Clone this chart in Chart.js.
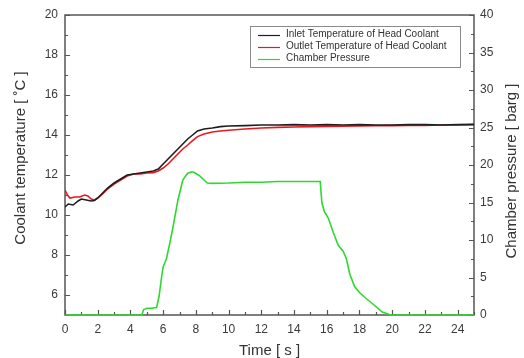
<!DOCTYPE html>
<html>
<head>
<meta charset="utf-8">
<script src="https://cdn.jsdelivr.net/npm/chart.js@4.4.1/dist/chart.umd.min.js"></script>
<style>
  html, body { margin: 0; padding: 0; background: #fff; }
  #wrap { width: 524px; height: 358px; }
</style>
</head>
<body>
<div id="wrap"><canvas id="chart" width="524" height="358"></canvas></div>
<script>
// values
const inletTime = [0, 0.2, 0.5, 0.8, 1.0, 1.3, 1.6, 1.8, 2.0, 2.3, 2.6, 3.0, 3.4, 3.8, 4.2, 4.6, 5.0, 5.4, 5.7, 6.0, 6.3, 6.6, 6.9, 7.2, 7.5, 7.8, 8.1, 8.5, 9.0, 9.5, 10, 11, 12, 13, 14, 15, 16, 17, 18, 19, 20, 21, 22, 23, 24, 25];
const inletTemp = [10.4, 10.55, 10.5, 10.7, 10.8, 10.75, 10.7, 10.72, 10.85, 11.1, 11.35, 11.6, 11.8, 12.0, 12.05, 12.1, 12.15, 12.2, 12.3, 12.55, 12.8, 13.05, 13.3, 13.55, 13.8, 14.0, 14.2, 14.3, 14.35, 14.42, 14.45, 14.47, 14.5, 14.5, 14.52, 14.5, 14.52, 14.5, 14.52, 14.5, 14.5, 14.52, 14.52, 14.5, 14.52, 14.53];

const outletTime = [0, 0.15, 0.3, 0.6, 0.9, 1.2, 1.4, 1.6, 1.8, 2.0, 2.3, 2.6, 3.0, 3.4, 3.8, 4.2, 4.6, 5.0, 5.4, 5.7, 6.0, 6.3, 6.6, 6.9, 7.2, 7.5, 7.8, 8.1, 8.5, 9.0, 9.5, 10, 11, 12, 13, 14, 15, 16, 17, 18, 19, 20, 21, 22, 23, 24, 25];
const outletTemp = [11.25, 11.0, 10.85, 10.9, 10.9, 11.0, 10.95, 10.8, 10.75, 10.85, 11.05, 11.3, 11.55, 11.75, 11.95, 12.05, 12.05, 12.1, 12.12, 12.2, 12.35, 12.55, 12.8, 13.05, 13.3, 13.5, 13.72, 13.92, 14.05, 14.15, 14.2, 14.24, 14.3, 14.35, 14.38, 14.4, 14.42, 14.43, 14.44, 14.45, 14.46, 14.47, 14.48, 14.48, 14.5, 14.5, 14.52];

const pressureTime = [0, 4.7, 4.8, 5.0, 5.3, 5.6, 5.75, 5.9, 6.0, 6.2, 6.4, 6.6, 6.9, 7.2, 7.5, 7.75, 7.9, 8.2, 8.5, 8.7, 9, 10, 11, 12, 13, 14, 15, 15.6, 15.7, 15.85, 16.1, 16.4, 16.7, 17.0, 17.2, 17.4, 17.7, 18.0, 18.3, 18.8, 19.4, 19.9, 21, 22, 23, 24, 25];
const pressureBarg = [0, 0, 0.7, 0.9, 0.9, 1.0, 2.5, 5.0, 6.4, 7.5, 9.5, 11.7, 15.3, 18.0, 18.9, 19.1, 19.0, 18.6, 18.0, 17.6, 17.55, 17.6, 17.7, 17.7, 17.8, 17.8, 17.8, 17.8, 15.0, 13.8, 12.9, 11.0, 9.3, 8.5, 7.5, 5.5, 3.8, 3.0, 2.4, 1.5, 0.4, 0, 0, 0, 0, 0, 0];

const seriesLabels = ["Inlet Temperature of Head Coolant", "Outlet Temperature of Head Coolant", "Chamber Pressure"];
const seriesColors = ["#1e1e1e", "#e8191e", "#2fd82f"];

const timeTicks = [0, 2, 4, 6, 8, 10, 12, 14, 16, 18, 20, 22, 24];
const tempTicks = [6, 8, 10, 12, 14, 16, 18, 20];
const pressureTicks = [0, 5, 10, 15, 20, 25, 30, 35, 40];

const xTitle = "Time [ s ]";
const yTitle = "Coolant temperature [ \u02DAC ]";
const y2Title = "Chamber pressure [ barg ]";

function points(xs, ys) {
  return xs.map((x, i) => ({ x, y: ys[i] }));
}

function fixedTicks(values) {
  return (scale) => {
    scale.ticks = values.map((value) => ({ value }));
  };
}

const axisColor = "#555";
const labelColor = "#3a3a3a";
const fontFamily = "'Liberation Sans', Arial, sans-serif";

// inward ticks + frame, drawn from the chart scales
const frameAndTicks = {
  id: "frameAndTicks",
  beforeDatasetsDraw(chart) {
    const { ctx, chartArea: a, scales } = chart;
    ctx.save();
    ctx.strokeStyle = axisColor;
    ctx.lineWidth = 1.5;
    ctx.strokeRect(a.left, a.top, a.right - a.left, a.bottom - a.top);

    ctx.lineWidth = 1.2;
    ctx.beginPath();
    const major = 5;
    const minor = 3;
    timeTicks.forEach((v) => {
      const px = Math.round(scales.x.getPixelForValue(v)) + 0.5;
      ctx.moveTo(px, a.bottom); ctx.lineTo(px, a.bottom - major);
      const pm = Math.round(scales.x.getPixelForValue(v + 1)) + 0.5;
      ctx.moveTo(pm, a.bottom); ctx.lineTo(pm, a.bottom - minor);
    });
    tempTicks.forEach((v) => {
      const py = Math.round(scales.y.getPixelForValue(v)) + 0.5;
      ctx.moveTo(a.left, py); ctx.lineTo(a.left + major, py);
      const pm = Math.round(scales.y.getPixelForValue(v - 1)) + 0.5;
      ctx.moveTo(a.left, pm); ctx.lineTo(a.left + minor, pm);
    });
    pressureTicks.forEach((v) => {
      const py = Math.round(scales.y2.getPixelForValue(v)) + 0.5;
      ctx.moveTo(a.right, py); ctx.lineTo(a.right - major, py);
      if (v > 0) {
        const pm = Math.round(scales.y2.getPixelForValue(v - 2.5)) + 0.5;
        ctx.moveTo(a.right, pm); ctx.lineTo(a.right - minor, pm);
      }
    });
    ctx.stroke();
    ctx.restore();
  },
  afterDraw(chart) {
    const { ctx, chartArea: a } = chart;
    ctx.save();
    // vertical axis titles (both read bottom to top)
    ctx.fillStyle = "#333";
    ctx.font = "15px " + fontFamily;
    ctx.textAlign = "center";
    ctx.textBaseline = "middle";
    ctx.save();
    ctx.translate(21, 158);
    ctx.rotate(-Math.PI / 2);
    ctx.fillText(yTitle, 0, 0);
    ctx.restore();
    ctx.save();
    ctx.translate(512, 171);
    ctx.rotate(-Math.PI / 2);
    ctx.fillText(y2Title, 0, 0);
    ctx.restore();

    // legend box
    const bx = a.left + 185, by = a.top + 11, bw = 210, bh = 41;
    ctx.fillStyle = "#fff";
    ctx.fillRect(bx, by, bw, bh);
    ctx.strokeStyle = "#8a8a8a";
    ctx.lineWidth = 1;
    ctx.strokeRect(bx + 0.5, by + 0.5, bw, bh);
    ctx.font = "10px " + fontFamily;
    ctx.textAlign = "left";
    seriesLabels.forEach((label, i) => {
      const y = by + 8.5 + i * 12;
      ctx.strokeStyle = seriesColors[i];
      ctx.lineWidth = 1.2;
      ctx.beginPath();
      ctx.moveTo(bx + 8, Math.round(y) + 0.5);
      ctx.lineTo(bx + 30, Math.round(y) + 0.5);
      ctx.stroke();
      ctx.fillStyle = "#333";
      ctx.fillText(label, bx + 36, y);
    });
    ctx.restore();
  },
};

new Chart(document.getElementById("chart"), {
  type: "line",
  data: {
    datasets: [
      {
        label: seriesLabels[0],
        data: points(inletTime, inletTemp),
        borderColor: seriesColors[0],
        borderWidth: 1.6,
        yAxisID: "y",
      },
      {
        label: seriesLabels[1],
        data: points(outletTime, outletTemp),
        borderColor: seriesColors[1],
        borderWidth: 1.6,
        yAxisID: "y",
      },
      {
        label: seriesLabels[2],
        data: points(pressureTime, pressureBarg),
        borderColor: seriesColors[2],
        borderWidth: 1.6,
        yAxisID: "y2",
        clip: false,
      },
    ],
  },
  options: {
    responsive: false,
    animation: false,
    devicePixelRatio: 1,
    layout: { padding: { top: 15, left: 0, right: 0, bottom: 0 } },
    elements: { point: { radius: 0 }, line: { tension: 0 } },
    plugins: { legend: { display: false }, tooltip: { enabled: false } },
    scales: {
      x: {
        type: "linear",
        position: "bottom",
        min: 0,
        max: 25,
        afterBuildTicks: fixedTicks(timeTicks),
        afterFit: (scale) => { scale.height = 43; },
        grid: { display: false, drawTicks: false },
        border: { display: false },
        ticks: { color: labelColor, font: { family: fontFamily, size: 12 }, padding: 7, maxRotation: 0 },
        title: {
          display: true,
          text: xTitle,
          color: "#333",
          font: { family: fontFamily, size: 15, lineHeight: 1 },
          padding: { top: 0, bottom: 0 },
        },
      },
      y: {
        type: "linear",
        position: "left",
        min: 5,
        max: 20,
        afterBuildTicks: fixedTicks(tempTicks),
        afterFit: (scale) => { scale.width = 65; },
        grid: { display: false, drawTicks: false },
        border: { display: false },
        ticks: { color: labelColor, font: { family: fontFamily, size: 12 }, padding: 7 },
      },
      y2: {
        type: "linear",
        position: "right",
        min: 0,
        max: 40,
        afterBuildTicks: fixedTicks(pressureTicks),
        afterFit: (scale) => { scale.width = 50; },
        grid: { display: false, drawTicks: false },
        border: { display: false },
        ticks: { color: labelColor, font: { family: fontFamily, size: 12 }, padding: 6 },
      },
    },
  },
  plugins: [frameAndTicks],
});
</script>
</body>
</html>
